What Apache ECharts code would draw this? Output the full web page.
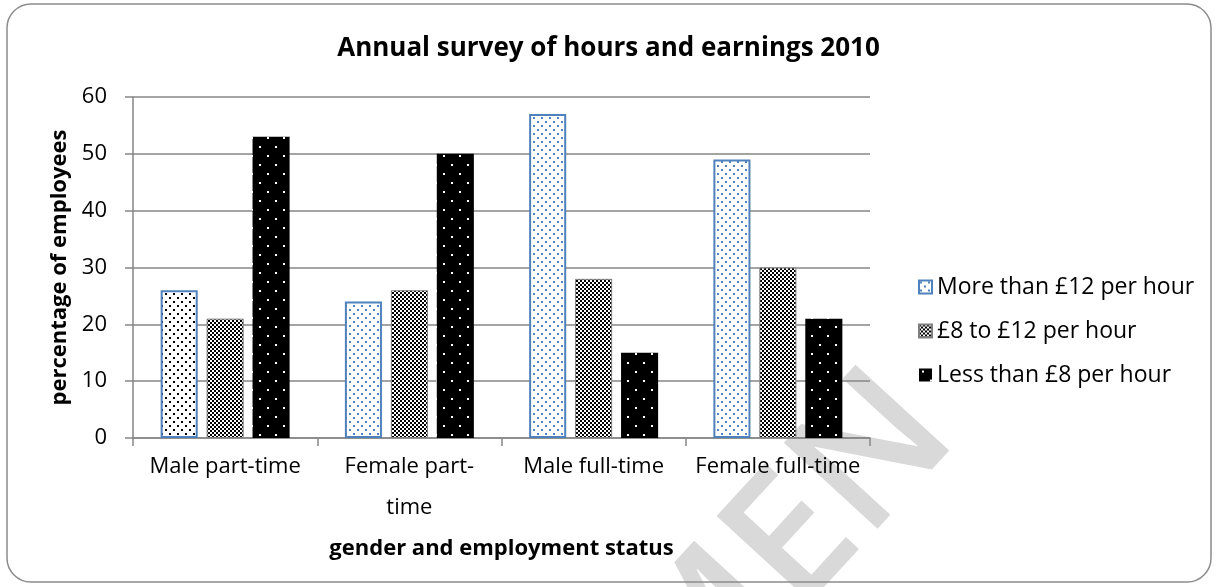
<!DOCTYPE html>
<html>
<head>
<meta charset="utf-8">
<script src="https://cdn.jsdelivr.net/npm/echarts@6/dist/echarts.min.js"></script>
<style>
  html, body { margin: 0; padding: 0; background: #fff; }
  #chart { width: 1217px; height: 587px; }
</style>
</head>
<body>
<div id="chart"></div>
<script>
// ---- data ----
const categories = ['Male part-time', 'Female part-\ntime', 'Male full-time', 'Female full-time'];
const seriesNames = ['More than £12 per hour', '£8 to £12 per hour', 'Less than £8 per hour'];
const moreThan12 = [26, 24, 57, 49];
const from8to12 = [21, 26, 28, 30];
const lessThan8 = [53, 50, 15, 21];
const yMin = 0, yMax = 60, yStep = 10;
const titleText = 'Annual survey of hours and earnings 2010';
const yName = 'percentage of employees';
const xName = 'gender and employment status';
const watermarkText = 'MEN';

// ---- patterns ----
function makeTile(w, h, bg, draw) {
  const c = document.createElement('canvas');
  c.width = w; c.height = h;
  const ctx = c.getContext('2d');
  ctx.fillStyle = bg; ctx.fillRect(0, 0, w, h);
  draw(ctx);
  return { image: c, repeat: 'repeat' };
}
const blueDots = makeTile(8, 8, '#ffffff', ctx => {
  ctx.fillStyle = '#4f81bd';
  ctx.fillRect(1, 1, 2, 2);
  ctx.fillRect(5, 5, 2, 2);
});
const blackSmallDots = makeTile(8, 8, '#ffffff', ctx => {
  ctx.fillStyle = '#000000';
  ctx.fillRect(1, 1, 2, 2);
  ctx.fillRect(5, 5, 2, 2);
});
const checker = makeTile(4, 4, '#ffffff', ctx => {
  ctx.fillStyle = '#000000';
  ctx.fillRect(0, 0, 2, 2);
  ctx.fillRect(2, 2, 2, 2);
});
const blackWhiteDots = makeTile(16, 18, '#000000', ctx => {
  ctx.fillStyle = '#ffffff';
  ctx.fillRect(3, 2, 2, 2);
  ctx.fillRect(11, 11, 2, 2);
});

const FONT = '"Open Sans", sans-serif';
const chart = echarts.init(document.getElementById('chart'));
chart.setOption({
  backgroundColor: '#ffffff',
  animation: false,
  textStyle: { fontFamily: FONT },
  title: {
    text: titleText,
    left: 'center',
    top: 31,
    textStyle: { fontFamily: FONT, fontSize: 26, fontWeight: 'bold', color: '#000' }
  },
  legend: {
    orient: 'vertical',
    left: 913,
    top: 268,
    itemWidth: 13,
    itemHeight: 13,
    itemGap: 16,
    icon: 'rect',
    textStyle: { fontFamily: FONT, fontSize: 23, color: '#000', lineHeight: 28 },
    data: seriesNames
  },
  grid: { left: 133, right: 347, top: 97, bottom: 149, containLabel: false },
  xAxis: {
    type: 'category',
    data: categories,
    name: xName,
    nameLocation: 'middle',
    nameGap: 100,
    nameTextStyle: { fontFamily: FONT, fontSize: 22, fontWeight: 'bold', color: '#000' },
    axisLine: { lineStyle: { color: '#868686', width: 1.5 } },
    axisTick: { show: true, length: 8, lineStyle: { color: '#868686', width: 1.5 } },
    axisLabel: { interval: 0, fontFamily: FONT, fontSize: 22, color: '#000', lineHeight: 41, margin: 8 }
  },
  yAxis: {
    type: 'value',
    min: yMin, max: yMax, interval: yStep,
    name: yName,
    nameLocation: 'middle',
    nameGap: 57,
    nameTextStyle: { fontFamily: FONT, fontSize: 22, fontWeight: 'bold', color: '#000' },
    axisLine: { show: true, lineStyle: { color: '#868686', width: 1.5 } },
    axisTick: { show: true, length: 8, lineStyle: { color: '#868686', width: 1.5 } },
    axisLabel: { fontFamily: FONT, fontSize: 22, color: '#000', margin: 26 },
    splitLine: { lineStyle: { color: '#868686', width: 1.5 } }
  },
  graphic: [
    {
      type: 'rect', z: 100, silent: true,
      shape: { x: 7, y: 4, width: 1204, height: 578, r: 24 },
      style: { fill: 'none', stroke: '#8c8c8c', lineWidth: 1.5 }
    },
    {
      type: 'text', z: 0, silent: true,
      x: 923, y: 404, rotation: 0.829,
      style: { text: watermarkText, fontFamily: FONT, fontSize: 178, fontWeight: 600, fill: '#d9d9d9', align: 'right', verticalAlign: 'middle' }
    }
  ],
  series: [
    {
      name: seriesNames[0], type: 'bar', z: 5,
      barCategoryGap: '30%', barGap: '24%',
      itemStyle: { color: blueDots, borderColor: '#4f81bd', borderWidth: 2 },
      data: moreThan12.map((v, i) => i === 0 ? { value: v, itemStyle: { color: blackSmallDots } } : v)
    },
    {
      name: seriesNames[1], type: 'bar', z: 5,
      barCategoryGap: '30%', barGap: '24%',
      itemStyle: { color: checker, borderColor: '#7f7f7f', borderWidth: 1 },
      data: from8to12
    },
    {
      name: seriesNames[2], type: 'bar', z: 5,
      barCategoryGap: '30%', barGap: '24%',
      itemStyle: { color: blackWhiteDots },
      data: lessThan8
    }
  ]
});
</script>
</body>
</html>
